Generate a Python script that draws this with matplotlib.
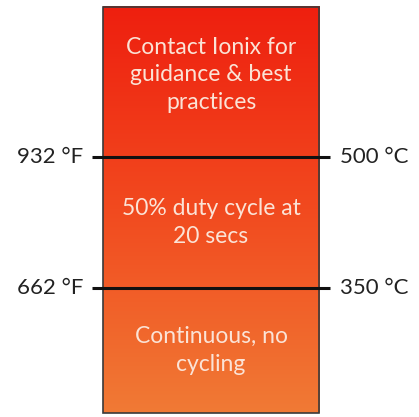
"""Operating zones by temperature: red-to-orange gradient bar with threshold lines."""

import matplotlib

matplotlib.use("Agg")
import matplotlib.pyplot as plt
import numpy as np
from matplotlib.colors import LinearSegmentedColormap

# thresholds (deg C) and their labels
THRESH_C = [500, 350]
LABELS_F = ["932 °F", "662 °F"]
LABELS_C = ["500 °C", "350 °C"]

# zone texts, top to bottom, with their temperature span in deg C
ZONE_TEXT = [
    "Contact Ionix for\nguidance & best\npractices",
    "50% duty cycle at\n20 secs",
    "Continuous, no\ncycling",
]
ZONE_LO = [500, 350, 207]
ZONE_HI = [672, 500, 350]

plt.rcParams["font.family"] = ["Lato", "DejaVu Sans"]

fig = plt.figure(figsize=(4.19, 4.17), dpi=100)
ax = fig.add_axes([0, 0, 1, 1])
ax.set_xlim(0, 419)
ax.set_ylim(202.3, 679.8)
ax.axis("off")

bar_l, bar_r = 103, 319
top, bot = max(ZONE_HI), min(ZONE_LO)

cmap = LinearSegmentedColormap.from_list(
    "heat", ["#f07a35", "#f24a1f", "#ee1f0f"])
grad = np.linspace(0, 1, 256).reshape(-1, 1)
ax.imshow(grad, cmap=cmap, origin="lower", aspect="auto",
          extent=(bar_l, bar_r, bot, top), zorder=1)
ax.add_patch(plt.Rectangle((bar_l, bot), bar_r - bar_l, top - bot,
                           fill=False, ec="#3a3a3a", lw=1.2, zorder=3))

for t, lf, lc in zip(THRESH_C, LABELS_F, LABELS_C):
    ax.plot([92, 330], [t, t], color="#111111", lw=2.2,
            solid_capstyle="butt", zorder=4)
    ax.text(83, t, lf, ha="right", va="center", fontsize=16, color="#222222")
    ax.text(340, t, lc, ha="left", va="center", fontsize=16, color="#222222")

for txt, lo, hi in zip(ZONE_TEXT, ZONE_LO, ZONE_HI):
    ax.text((bar_l + bar_r) / 2, (lo + hi) / 2 + (8 if hi == top else 0), txt,
            ha="center", va="center", fontsize=16.5, color="#fbe3d6",
            linespacing=1.38, zorder=5)

fig.savefig("out.png", dpi=100)
